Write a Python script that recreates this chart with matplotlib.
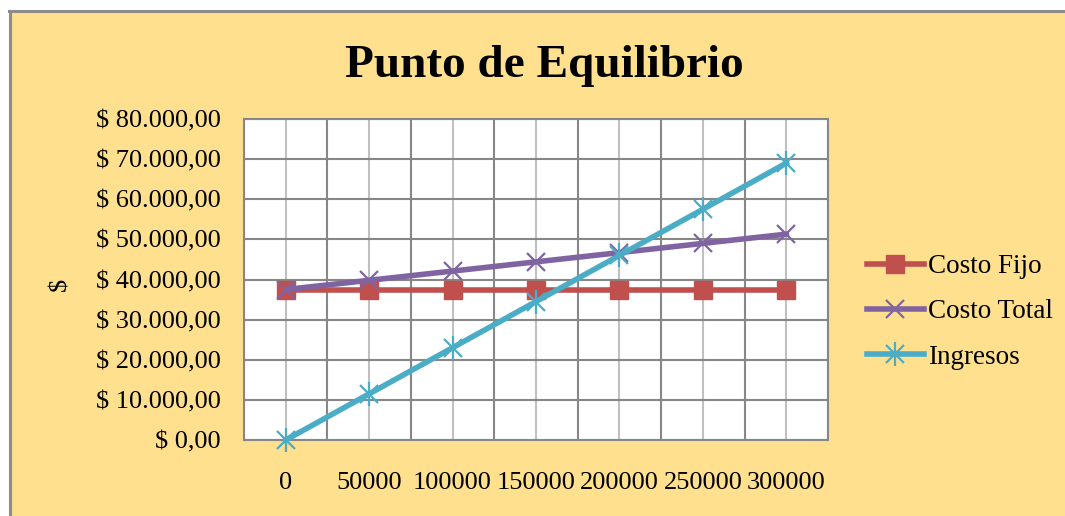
import matplotlib
matplotlib.use("Agg")
import matplotlib.pyplot as plt
from matplotlib.patches import Rectangle
from matplotlib.legend_handler import HandlerTuple

categories = ["0", "50000", "100000", "150000", "200000", "250000", "300000"]
costo_fijo = [37500, 37500, 37500, 37500, 37500, 37500, 37500]
costo_total = [37500, 39800, 42100, 44400, 46700, 49000, 51300]
ingresos = [0, 11500, 23000, 34500, 46000, 57500, 69000]
y_ticks = [0, 10000, 20000, 30000, 40000, 50000, 60000, 70000, 80000]
y_tick_labels = ["$ 0,00", "$ 10.000,00", "$ 20.000,00", "$ 30.000,00", "$ 40.000,00",
                 "$ 50.000,00", "$ 60.000,00", "$ 70.000,00", "$ 80.000,00"]

plt.rcParams['font.family'] = ['Liberation Serif', 'DejaVu Serif']

BG = "#FFE08F"
RED = "#C0504D"
PURPLE = "#8064A2"
CYAN = "#4BACC6"
DARK = "#878787"
LIGHT = "#C0C0C0"

W, H = 1065, 516
fig = plt.figure(figsize=(W / 100, H / 100), dpi=100)
fig.patch.set_facecolor("white")

# chart area background with border (cropped at right/bottom)
fig.patches.append(Rectangle((10 / W, 0), 1 - 10 / W, 1 - 11 / H, transform=fig.transFigure,
                             facecolor=BG, edgecolor="none", zorder=-10))
fig.lines.append(plt.Line2D([10 / W, 10 / W], [0, 1 - 10.5 / H], transform=fig.transFigure,
                            color="#8C8C8C", lw=2.2, zorder=-9))
fig.lines.append(plt.Line2D([9 / W, 1], [1 - 11 / H, 1 - 11 / H], transform=fig.transFigure,
                            color="#8C8C8C", lw=2.2, zorder=-9))

left, right, top, bottom = 244, 828, 119, 440
ax = fig.add_axes([left / W, 1 - bottom / H, (right - left) / W, (bottom - top) / H])
ax.set_zorder(1)
ax.set_facecolor("white")

x = list(range(len(categories)))
l1, = ax.plot(x, costo_fijo, color=RED, lw=4, marker="s", markersize=13,
              markerfacecolor=RED, markeredgecolor=RED, label="Costo Fijo", zorder=3)
l2, = ax.plot(x, costo_total, color=PURPLE, lw=4, marker="x", markersize=13,
              markeredgewidth=1.6, markeredgecolor=PURPLE, label="Costo Total", zorder=4)
l3, = ax.plot(x, ingresos, color=CYAN, lw=4, marker="x", markersize=13,
              markeredgewidth=1.6, markeredgecolor=CYAN, label="Ingresos", zorder=5)
l3b, = ax.plot(x, ingresos, color=CYAN, lw=0, marker="|", markersize=17,
               markeredgewidth=1.6, markeredgecolor=CYAN, zorder=5)
for ln in (l1, l2, l3, l3b):
    ln.set_clip_on(False)

ax.set_xlim(-0.5, len(categories) - 0.5)
ax.set_ylim(0, 80000)
ax.set_xticks(x)
ax.set_xticklabels(categories)
ax.set_xticks([i - 0.5 for i in range(len(categories) + 1)], minor=True)
ax.set_yticks(y_ticks)
ax.set_yticklabels(y_tick_labels)
ax.tick_params(axis="both", which="both", length=0, labelsize=19, colors="black")
ax.tick_params(axis="y", pad=17)
ax.tick_params(axis="x", pad=23)
ax.grid(which="minor", axis="x", color=DARK, lw=1.5)
ax.grid(which="major", axis="x", color=LIGHT, lw=1.5)
ax.grid(which="major", axis="y", color=DARK, lw=1.5)
ax.set_axisbelow(True)
for sp in ax.spines.values():
    sp.set_color(DARK)
    sp.set_linewidth(1.5)

fig.text(60 / W, 1 - 284 / H, "$", rotation=90, fontsize=19, ha="center", va="center")
fig.text(544 / W, 1 - 66 / H, "Punto de Equilibrio", fontsize=34, fontweight="bold",
         ha="center", va="center")

leg = fig.legend([l1, l2, (l3, l3b)], ["Costo Fijo", "Costo Total", "Ingresos"],
                 handler_map={tuple: HandlerTuple(ndivide=1)},
                 loc="center left", bbox_to_anchor=(867 / W, 1 - 312 / H),
                 frameon=False, fontsize=19.5, handlelength=2.1, handletextpad=0.15,
                 labelspacing=0.74, borderpad=0, borderaxespad=0)

fig.savefig("out.png", dpi=100, facecolor=fig.get_facecolor())
